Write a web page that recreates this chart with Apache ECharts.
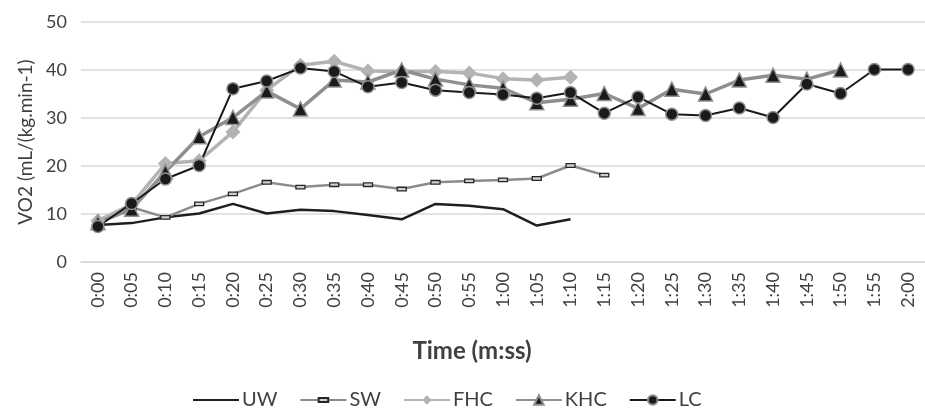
<!DOCTYPE html>
<html>
<head>
<meta charset="utf-8">
<script src="https://cdn.jsdelivr.net/npm/echarts@6/dist/echarts.min.js"></script>
<style>html,body{margin:0;padding:0;background:#fff;}#c{width:925px;height:411px;}</style>
</head>
<body>
<div id="c"></div>
<script>
const categories = ['0:00','0:05','0:10','0:15','0:20','0:25','0:30','0:35','0:40','0:45','0:50','0:55','1:00','1:05','1:10','1:15','1:20','1:25','1:30','1:35','1:40','1:45','1:50','1:55','2:00'];
const yTicks = [0, 10, 20, 30, 40, 50];
const UW  = [7.7, 8.1, 9.3, 10.1, 12.1, 10.1, 10.9, 10.6, 9.8, 8.9, 12.1, 11.7, 11.0, 7.6, 8.9];
const SW  = [8.0, 11.4, 9.3, 12.1, 14.2, 16.6, 15.6, 16.1, 16.1, 15.2, 16.6, 16.9, 17.1, 17.4, 20.1, 18.1];
const FHC = [8.6, 12.0, 20.5, 21.1, 27.1, 35.8, 41.0, 41.8, 39.8, 39.7, 39.7, 39.4, 38.2, 37.9, 38.5];
const KHC = [8.2, 11.0, 18.8, 26.1, 30.1, 35.6, 31.9, 37.9, 37.5, 40.0, 38.1, 36.9, 36.2, 33.2, 33.9, 35.1, 32.0, 36.0, 35.0, 37.9, 38.9, 38.1, 40.0];
const LC  = [7.4, 12.2, 17.3, 20.1, 36.1, 37.7, 40.4, 39.7, 36.5, 37.4, 35.8, 35.3, 34.9, 34.1, 35.3, 31.0, 34.4, 30.8, 30.5, 32.1, 30.1, 37.1, 35.1, 40.1, 40.1];

const FONT = 'Lato, "Open Sans", sans-serif';
const TXT = '#404040';
// flat rectangle inside a square bounding box (so legend and series both show a flat marker)
const SW_SYMBOL = 'path://M0,0 Z M0,3 L10,3 L10,7 L0,7 Z M10,10 Z';
const chart = echarts.init(document.getElementById('c'), null, {renderer: 'canvas'});
chart.setOption({
  animation: false,
  textStyle: {fontFamily: FONT},
  title: {
    text: 'Time (m:ss)',
    left: 467, top: 334, textAlign: 'center',
    textStyle: {fontFamily: FONT, fontWeight: 'bold', fontSize: 24, color: TXT}
  },
  legend: {
    left: 187, top: 385,
    itemWidth: 46, itemHeight: 12, itemGap: 22,
    textStyle: {fontFamily: FONT, fontSize: 20, color: TXT, padding: [0, 0, 0, -2]},
    data: [
      {name: 'UW', itemStyle: {opacity: 0}},
      {name: 'SW'},
      {name: 'FHC'},
      {name: 'KHC'},
      {name: 'LC'}
    ]
  },
  grid: {left: 81, top: 22, width: 850, height: 240, containLabel: false},
  xAxis: {
    type: 'category',
    data: categories,
    boundaryGap: true,
    axisLine: {lineStyle: {color: '#d9d9d9', width: 1.5}},
    axisTick: {show: false},
    axisLabel: {rotate: 90, fontSize: 18, color: TXT, fontFamily: FONT, margin: 10, interval: 0}
  },
  yAxis: {
    type: 'value',
    min: yTicks[0], max: yTicks[yTicks.length - 1], interval: 10,
    name: 'VO2 (mL/(kg.min-1)',
    nameLocation: 'middle', nameGap: 45, nameRotate: 90,
    nameTextStyle: {fontFamily: FONT, fontSize: 19, color: TXT},
    axisLine: {show: false},
    axisTick: {show: false},
    axisLabel: {fontSize: 18, color: TXT, fontFamily: FONT, margin: 14},
    splitLine: {lineStyle: {color: '#d9d9d9', width: 1.5}}
  },
  series: [
    {name: 'UW', type: 'line', data: UW, showSymbol: false, symbol: 'none',
     lineStyle: {color: '#1f1f1f', width: 2.5}, itemStyle: {color: '#1f1f1f'}},
    {name: 'SW', type: 'line', data: SW, symbol: SW_SYMBOL, symbolSize: 9,
     lineStyle: {color: '#8c8c8c', width: 2.5},
     itemStyle: {color: '#d0d0d0', borderColor: '#262626', borderWidth: 1.3}},
    {name: 'FHC', type: 'line', data: FHC, symbol: 'diamond', symbolSize: 15,
     lineStyle: {color: '#b3b3b3', width: 3.5},
     itemStyle: {color: '#b3b3b3'}},
    {name: 'KHC', type: 'line', data: KHC, symbol: 'triangle', symbolSize: 14,
     lineStyle: {color: '#8f8f8f', width: 3.5},
     itemStyle: {color: '#1a1a1a', borderColor: '#8f8f8f', borderWidth: 1.5}},
    {name: 'LC', type: 'line', data: LC, symbol: 'circle', symbolSize: 12,
     lineStyle: {color: '#1a1a1a', width: 2},
     itemStyle: {color: '#1a1a1a', borderColor: '#8f8f8f', borderWidth: 1.5}}
  ]
});
</script>
</body>
</html>
